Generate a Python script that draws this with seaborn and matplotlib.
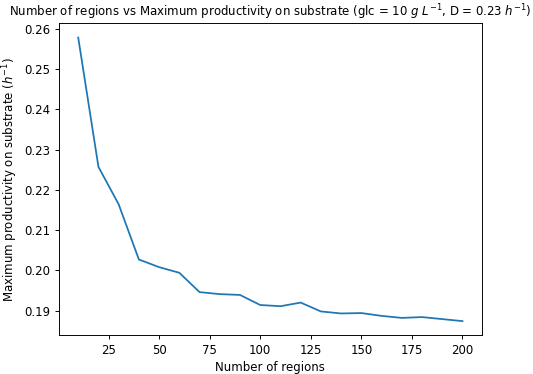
import seaborn as sns
import matplotlib.pyplot as plt
import pandas as pd

# Valores
regions = [10, 20, 30, 40, 50, 60, 70, 80, 90, 100,
           110, 120, 130, 140, 150, 160, 170, 180, 190, 200]
productivity = [0.2578, 0.2257, 0.2164, 0.2027, 0.2008, 0.1994, 0.1946, 0.1941, 0.1939, 0.1914,
                0.1911, 0.1920, 0.1898, 0.1893, 0.1894, 0.1887, 0.1882, 0.1884, 0.1879, 0.1874]

df = pd.DataFrame({"regions": regions, "productivity": productivity})

fig = plt.figure(figsize=(533 / 85, 374 / 85), dpi=85)
ax = fig.add_axes([0.1107, 0.1035, 0.793, 0.834])

sns.lineplot(x="regions", y="productivity", data=df, color="#1f77b4", linewidth=1.5, ax=ax)

ax.set_title(r"Number of regions vs Maximum productivity on substrate (glc = 10 $g\ L^{-1}$, D = 0.23 $h^{-1}$)",
             fontsize=10)
ax.set_xlabel("Number of regions", fontsize=10)
ax.set_ylabel(r"Maximum productivity on substrate ($h^{-1}$)", fontsize=10)
ax.set_yticks([0.19, 0.20, 0.21, 0.22, 0.23, 0.24, 0.25, 0.26])
ax.set_xticks([25, 50, 75, 100, 125, 150, 175, 200])

fig.savefig("out.png", dpi=85)
